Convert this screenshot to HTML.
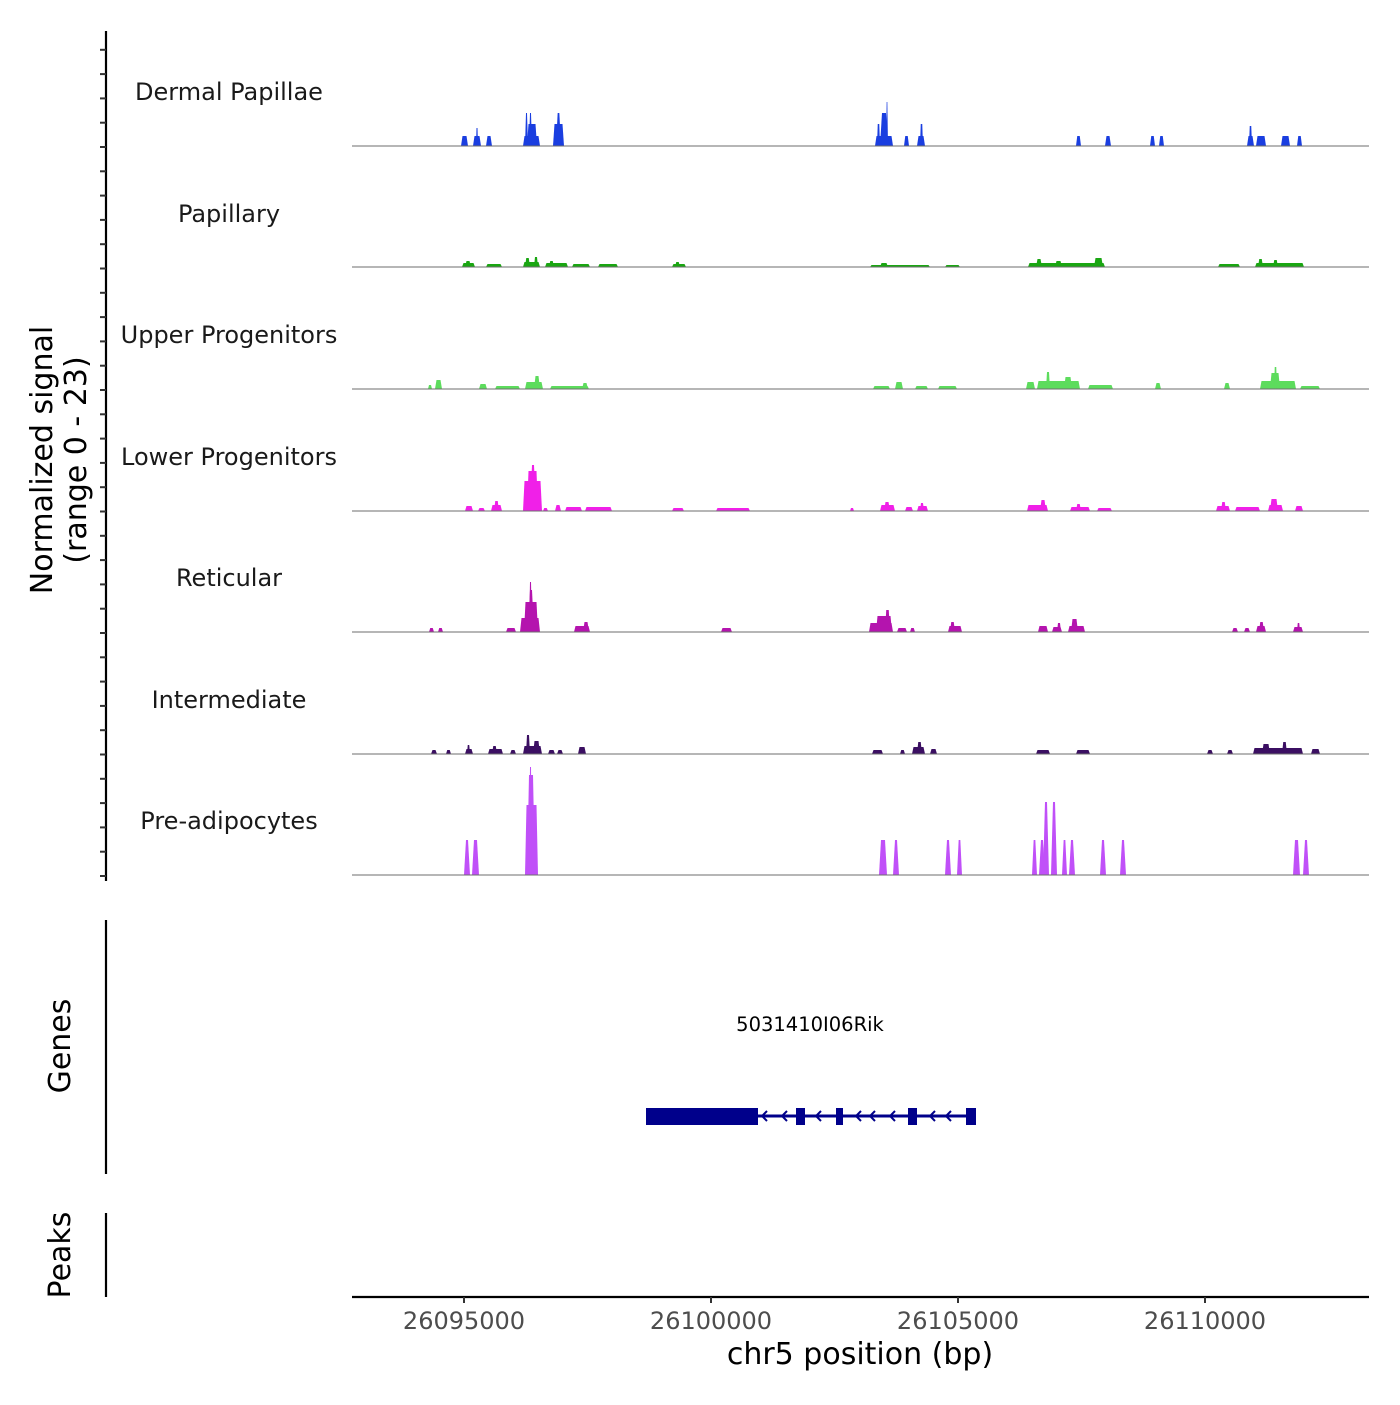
<!DOCTYPE html>
<html><head><meta charset="utf-8"><style>
body{margin:0;background:#fff;}
svg text{font-family:"DejaVu Sans","Liberation Sans",sans-serif;}
</style></head><body>
<svg id="s" width="1400" height="1400" viewBox="0 0 1400 1400" xmlns="http://www.w3.org/2000/svg">
<rect width="1400" height="1400" fill="#fff"/>
<g id="tracks"></g>
<line x1="106" y1="31" x2="106" y2="881" stroke="#000" stroke-width="2.2"/>
<g id="ticks"></g>
<line x1="106" y1="920" x2="106" y2="1174" stroke="#000" stroke-width="2.2"/>
<line x1="106" y1="1213" x2="106" y2="1297" stroke="#000" stroke-width="2.2"/>
<text transform="translate(52,460) rotate(-90)" font-size="30" text-anchor="middle">Normalized signal</text>
<text transform="translate(86,460) rotate(-90)" font-size="30" text-anchor="middle">(range 0 - 23)</text>
<text transform="translate(70,1046) rotate(-90)" font-size="30" text-anchor="middle">Genes</text>
<text transform="translate(70,1255) rotate(-90)" font-size="30" text-anchor="middle">Peaks</text>
<g font-size="24" text-anchor="middle" fill="#1a1a1a">
<text x="229" y="100">Dermal Papillae</text>
<text x="229" y="222">Papillary</text>
<text x="229" y="343">Upper Progenitors</text>
<text x="229" y="465">Lower Progenitors</text>
<text x="229" y="586">Reticular</text>
<text x="229" y="708">Intermediate</text>
<text x="229" y="829">Pre-adipocytes</text>
</g>
<text x="810" y="1031" font-size="19.5" text-anchor="middle">5031410I06Rik</text>
<line x1="646" y1="1116" x2="976" y2="1116" stroke="#00008b" stroke-width="3"/>
<rect x="646" y="1108" width="112" height="17" fill="#00008b"/>
<rect x="796" y="1108" width="9" height="17" fill="#00008b"/>
<rect x="836" y="1108" width="7" height="17" fill="#00008b"/>
<rect x="908" y="1108" width="9" height="17" fill="#00008b"/>
<rect x="966" y="1108" width="10" height="17" fill="#00008b"/>
<g id="arrows" stroke="#00008b" stroke-width="2" fill="none"></g>
<line x1="352" y1="1297" x2="1369" y2="1297" stroke="#000" stroke-width="2.2"/>
<g stroke="#333" stroke-width="2"><line x1="464" y1="1297" x2="464" y2="1303"/><line x1="711" y1="1297" x2="711" y2="1303"/><line x1="958" y1="1297" x2="958" y2="1303"/><line x1="1205" y1="1297" x2="1205" y2="1303"/></g>
<g font-size="24" text-anchor="middle" fill="#4d4d4d">
<text x="464" y="1329">26095000</text><text x="711" y="1329">26100000</text><text x="958" y="1329">26105000</text><text x="1205" y="1329">26110000</text>
</g>
<text x="860" y="1364" font-size="30" text-anchor="middle">chr5 position (bp)</text>
</svg>
<script>
var NS="http://www.w3.org/2000/svg";
function el(p,t,a){var e=document.createElementNS(NS,t);for(var k in a)e.setAttribute(k,a[k]);p.appendChild(e);return e;}
var tk=document.getElementById("ticks");
for(var k=0;k<=34;k++){var y=876-k*24.3;el(tk,"line",{x1:100,y1:y,x2:106,y2:y,stroke:"#333","stroke-width":2});}
var ar=document.getElementById("arrows");
[762,782,816,856,870,890,930,946,966].forEach(function(x){el(ar,"polyline",{points:(x+5)+",1111 "+x+",1116 "+(x+5)+",1121"});});
var T=document.getElementById("tracks");
var tracks=[
[146,"#1a3ee0",[[461,468,10],[473,481,10],[476,478,18],[486,492,10],[523,540,10],[525,528,33],[529,532,33],[527,537,22],[553,564,22],[556,561,33],[875,893,10],[877,880,22],[880,888,33],[886,888,44],[904,909,10],[917,925,10],[920,923,22],[1076,1081,10],[1105,1111,10],[1150,1155,10],[1159,1164,10],[1247,1254,10],[1249,1252,20],[1256,1266,10],[1281,1290,10],[1297,1302,10]]],
[267,"#1aa612",[[462,475,4],[465,471,6],[486,502,3],[523,540,5],[525,530,9],[534,538,10],[545,568,4],[549,554,6],[572,590,3],[598,618,3],[672,686,3],[675,680,5],[870,930,2],[880,888,4],[945,960,2],[1028,1105,4],[1036,1042,8],[1055,1062,6],[1094,1103,9],[1218,1240,3],[1255,1304,4],[1258,1263,8],[1273,1278,7]]],
[389,"#5ddc5d",[[428,432,4],[435,442,9],[479,487,5],[495,520,3],[525,543,7],[534,540,13],[550,589,3],[582,588,6],[873,890,3],[895,903,7],[915,928,3],[938,957,3],[1026,1035,7],[1037,1080,8],[1046,1050,17],[1064,1072,12],[1088,1113,4],[1155,1161,6],[1224,1230,6],[1260,1296,8],[1270,1280,16],[1274,1277,22],[1300,1320,3]]],
[511,"#f020e8",[[465,473,5],[478,485,3],[491,502,6],[494,499,10],[523,542,30],[527,538,40],[530,536,46],[543,548,3],[555,561,6],[565,582,4],[585,612,4],[672,684,3],[716,750,3],[850,854,3],[880,895,6],[884,890,9],[905,913,4],[917,928,5],[920,924,8],[1027,1048,6],[1040,1046,11],[1070,1090,4],[1076,1081,7],[1097,1112,3],[1216,1230,5],[1221,1226,9],[1235,1260,4],[1268,1283,6],[1270,1278,12],[1295,1303,5]]],
[632,"#b414ae",[[429,434,4],[438,443,4],[506,516,4],[520,540,14],[524,538,30],[528,534,42],[529,532,50],[574,590,6],[583,589,10],[721,732,4],[869,893,9],[876,892,16],[885,890,22],[897,907,4],[910,915,4],[948,962,6],[950,955,10],[1038,1048,6],[1052,1062,5],[1057,1061,9],[1068,1085,6],[1071,1078,13],[1232,1238,4],[1244,1250,4],[1256,1266,6],[1259,1264,10],[1293,1303,5],[1297,1300,9]]],
[754,"#3b0f62",[[431,437,4],[446,451,4],[465,473,5],[467,470,9],[488,503,5],[492,497,8],[510,516,4],[523,542,8],[526,530,19],[533,540,13],[548,555,4],[557,563,4],[578,586,7],[872,883,4],[900,905,4],[912,925,7],[917,922,12],[930,937,5],[1036,1050,4],[1076,1090,4],[1207,1213,4],[1227,1233,4],[1253,1303,6],[1262,1270,10],[1282,1287,12],[1311,1320,5]]],
[875,"#c050f8",[[464,470,35],[472,479,35],[525,538,70],[527,535,100],[529,532,108],[879,887,35],[893,899,35],[945,951,35],[957,962,35],[1032,1037,35],[1039,1045,35],[1043,1049,73],[1051,1057,73],[1062,1067,35],[1069,1075,35],[1100,1106,35],[1120,1126,35],[1293,1300,35],[1303,1309,35]]]
];
tracks.forEach(function(t){
 var b=t[0],c=t[1];
 t[2].forEach(function(p){
  var x1=p[0],x2=p[1],h=p[2],w=x2-x1,s=Math.min(1.5,w/4);
  if(h>30&&w<9)s=Math.min(w/3,2);
  el(T,"polygon",{points:x1+","+b+" "+(x1+s)+","+(b-h)+" "+(x2-s)+","+(b-h)+" "+x2+","+b,fill:c});
 });
 el(T,"line",{x1:352,y1:b,x2:1369,y2:b,stroke:"#6e6e6e","stroke-width":1});
});
</script>
</body></html>
